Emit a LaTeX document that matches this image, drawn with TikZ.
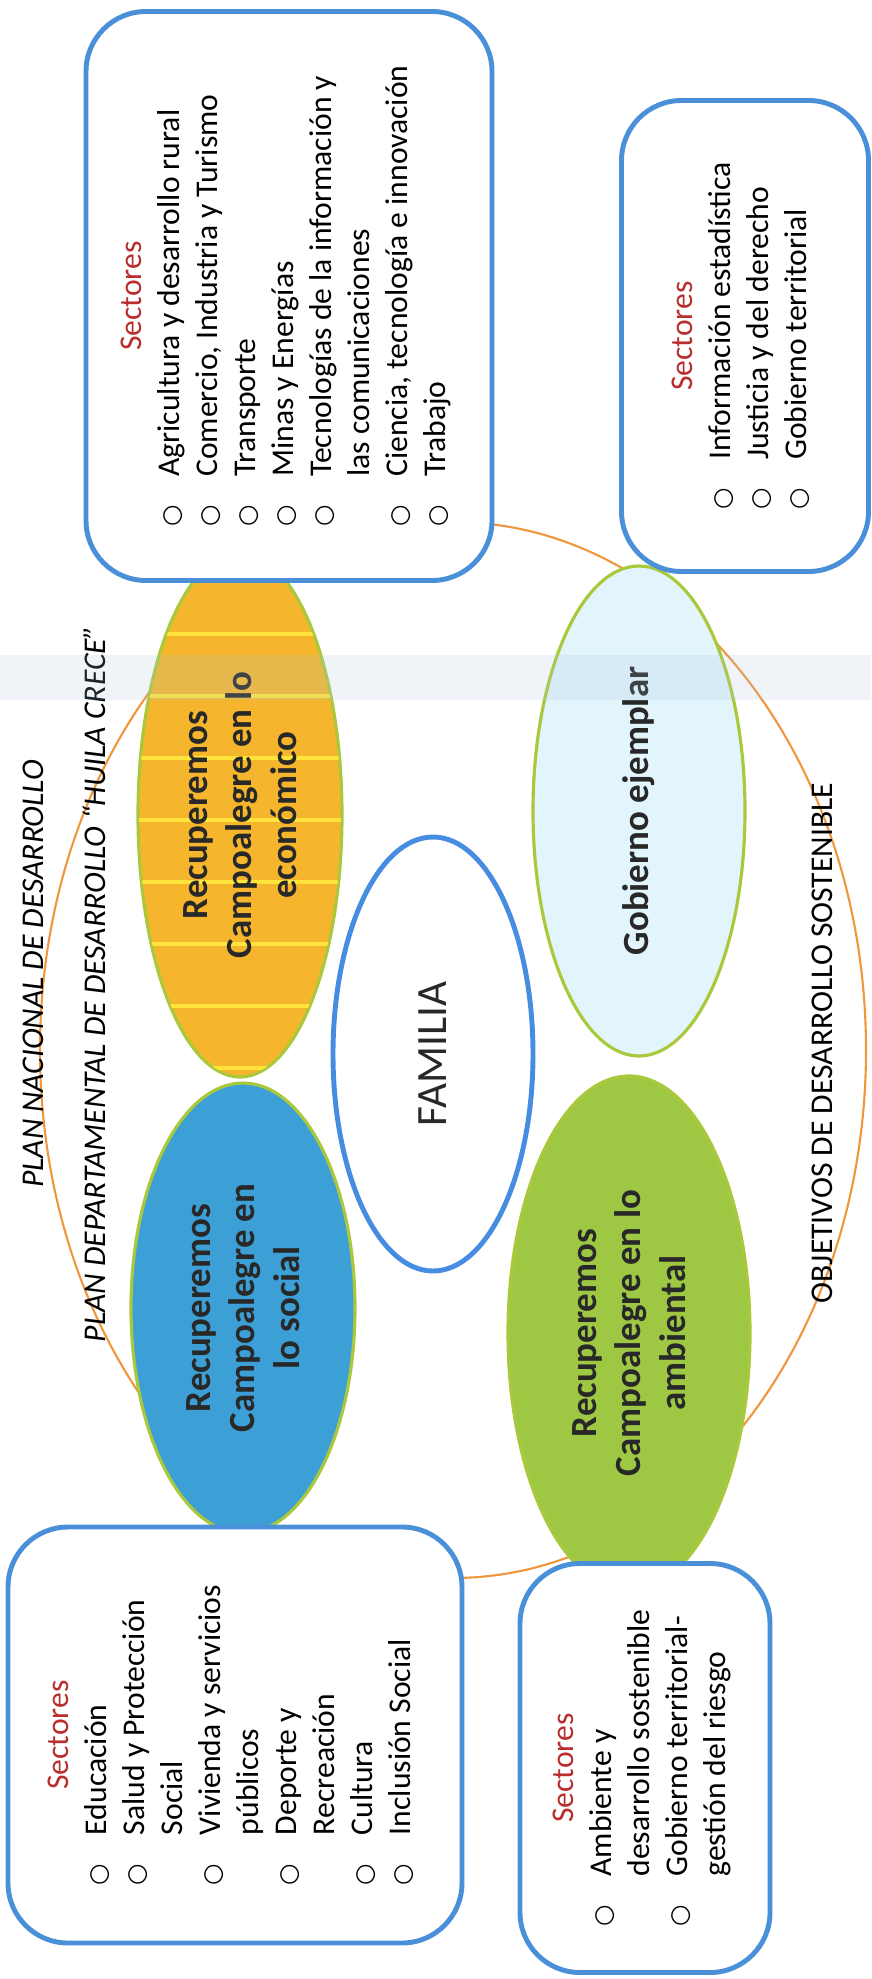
\documentclass[tikz,border=0pt]{standalone}
\usepackage{fontspec}
\setmainfont{Carlito}
\newfontfamily\symfont{DejaVu Sans}
\usetikzlibrary{shapes.geometric}

\definecolor{boxblue}{RGB}{74,144,217}
\definecolor{famblue}{RGB}{70,140,225}
\definecolor{ellgreen}{RGB}{170,200,60}
\definecolor{ecoyel}{RGB}{245,182,45}
\definecolor{stripeyel}{RGB}{255,228,60}
\definecolor{socblue}{RGB}{60,160,214}
\definecolor{gobblue}{RGB}{226,245,252}
\definecolor{ambgreen}{RGB}{158,200,68}
\definecolor{orbitorange}{RGB}{240,150,60}
\definecolor{sectred}{RGB}{185,45,45}
\definecolor{ellink}{RGB}{40,40,40}
\definecolor{bandblue}{RGB}{170,195,220}

\newcommand{\bul}{\makebox[0.5cm][l]{{\symfont\fontsize{7}{7}\selectfont ○}}}
\newcommand{\sect}{\textcolor{sectred}{Sectores}}

\begin{document}
\begin{tikzpicture}[x=0.1mm,y=-0.1mm,
	elltxt/.style={
		rotate=90,
		align=center,
		text=ellink,
		font=\fontsize{10.5}{12.7}\selectfont\bfseries},
	elli/.style={
		ellipse,
		elltxt,
		inner sep=0pt,
		draw=ellgreen,
		line width=0.9pt},
	sectbox/.style={
		draw=boxblue,
		line width=1.4pt,
		fill=white,
		rounded corners=0.6cm,
		rotate=90,
		inner sep=0pt,
		align=center,
		font=\fontsize{9}{10.8}\selectfont},
	plantitle/.style={rotate=90,inner sep=0pt,font=\fontsize{9}{10.8}\selectfont\itshape},
	stripe/.style={draw=stripeyel,line width=1pt},
	orbit/.style={draw=orbitorange,line width=0.6pt}
	]
	\useasboundingbox (0,0) rectangle (871,1979);

	% outer orange ring
	\draw[orbit] (453,1050) ellipse [x radius=4.13cm, y radius=5.28cm];

	\node[plantitle] (pnd) at (33,974) {PLAN NACIONAL DE DESARROLLO};
	\node[plantitle] (pdd) at (94,984) {PLAN DEPARTAMENTAL DE DESARROLLO “HUILA CRECE”};
	\node[plantitle,font=\fontsize{9}{10.8}\selectfont] (ods) at (822,1043) {OBJETIVOS DE DESARROLLO SOSTENIBLE};

	% the four ellipses and the centre
	\node[elli,fill=ecoyel,minimum width=5.24cm,minimum height=2.04cm] (eco) at (240,815) {};
	\begin{scope}
		\clip (240,815) ellipse [x radius=1.01cm, y radius=2.61cm];
		\foreach \s in {572,634,...,1068}
			\draw[stripe] (130,\s) -- (350,\s);
	\end{scope}
	\node[elltxt] (ecotxt) at (eco) {Recuperemos\\Campoalegre en lo\\económico};
	\node[elli,fill=socblue,minimum width=4.5cm,minimum height=2.24cm] (soc) at (243,1308) {Recuperemos\\Campoalegre en\\lo social};
	\node[elli,fill=gobblue,minimum width=4.9cm,minimum height=2.12cm] (gob) at (639,811) {Gobierno ejemplar};
	\node[elli,fill=ambgreen,minimum width=5.14cm,minimum height=2.42cm] (amb) at (629,1333) {Recuperemos\\Campoalegre en lo\\ambiental};
	\node[elli,draw=famblue,line width=1.4pt,fill=white,minimum width=4.34cm,minimum height=2cm,
		font=\fontsize{12.3}{14}\selectfont] (fam) at (433,1054) {FAMILIA};

	% sector boxes
	\node[sectbox,minimum width=5.69cm,minimum height=4.06cm] (beco) at (289,296) {\sect\\
		\begin{tabular}[t]{@{}l@{}l@{}}
			\bul & Agricultura y desarrollo rural\\
			\bul & Comercio, Industria y Turismo\\
			\bul & Transporte\\
			\bul & Minas y Energías\\
			\bul & Tecnologías de la información y\\
			     & las comunicaciones\\
			\bul & Ciencia, tecnología e innovación\\
			\bul & Trabajo
		\end{tabular}};
	\node[sectbox,minimum width=4.71cm,minimum height=2.47cm] (bgob) at (745,336) {\sect\\
		\begin{tabular}[t]{@{}l@{}l@{}}
			\bul & Información estadística\\
			\bul & Justicia y del derecho\\
			\bul & Gobierno territorial
		\end{tabular}};
	\node[sectbox,minimum width=4.16cm,minimum height=4.54cm] (bsoc) at (235,1735) {\sect\\
		\begin{tabular}[t]{@{}l@{}l@{}}
			\bul & Educación\\
			\bul & Salud y Protección\\
			     & Social\\
			\bul & Vivienda y servicios\\
			     & públicos\\
			\bul & Deporte y\\
			     & Recreación\\
			\bul & Cultura\\
			\bul & Inclusión Social
		\end{tabular}};
	\node[sectbox,minimum width=4.09cm,minimum height=2.5cm] (bamb) at (645,1768) {\sect\\
		\begin{tabular}[t]{@{}l@{}l@{}}
			\bul & Ambiente y\\
			     & desarrollo sostenible\\
			\bul & Gobierno territorial-\\
			     & gestión del riesgo
		\end{tabular}};

	% faint scanner band
	\fill[bandblue,opacity=0.18] (0,655) rectangle (871,700);
\end{tikzpicture}
\end{document}
